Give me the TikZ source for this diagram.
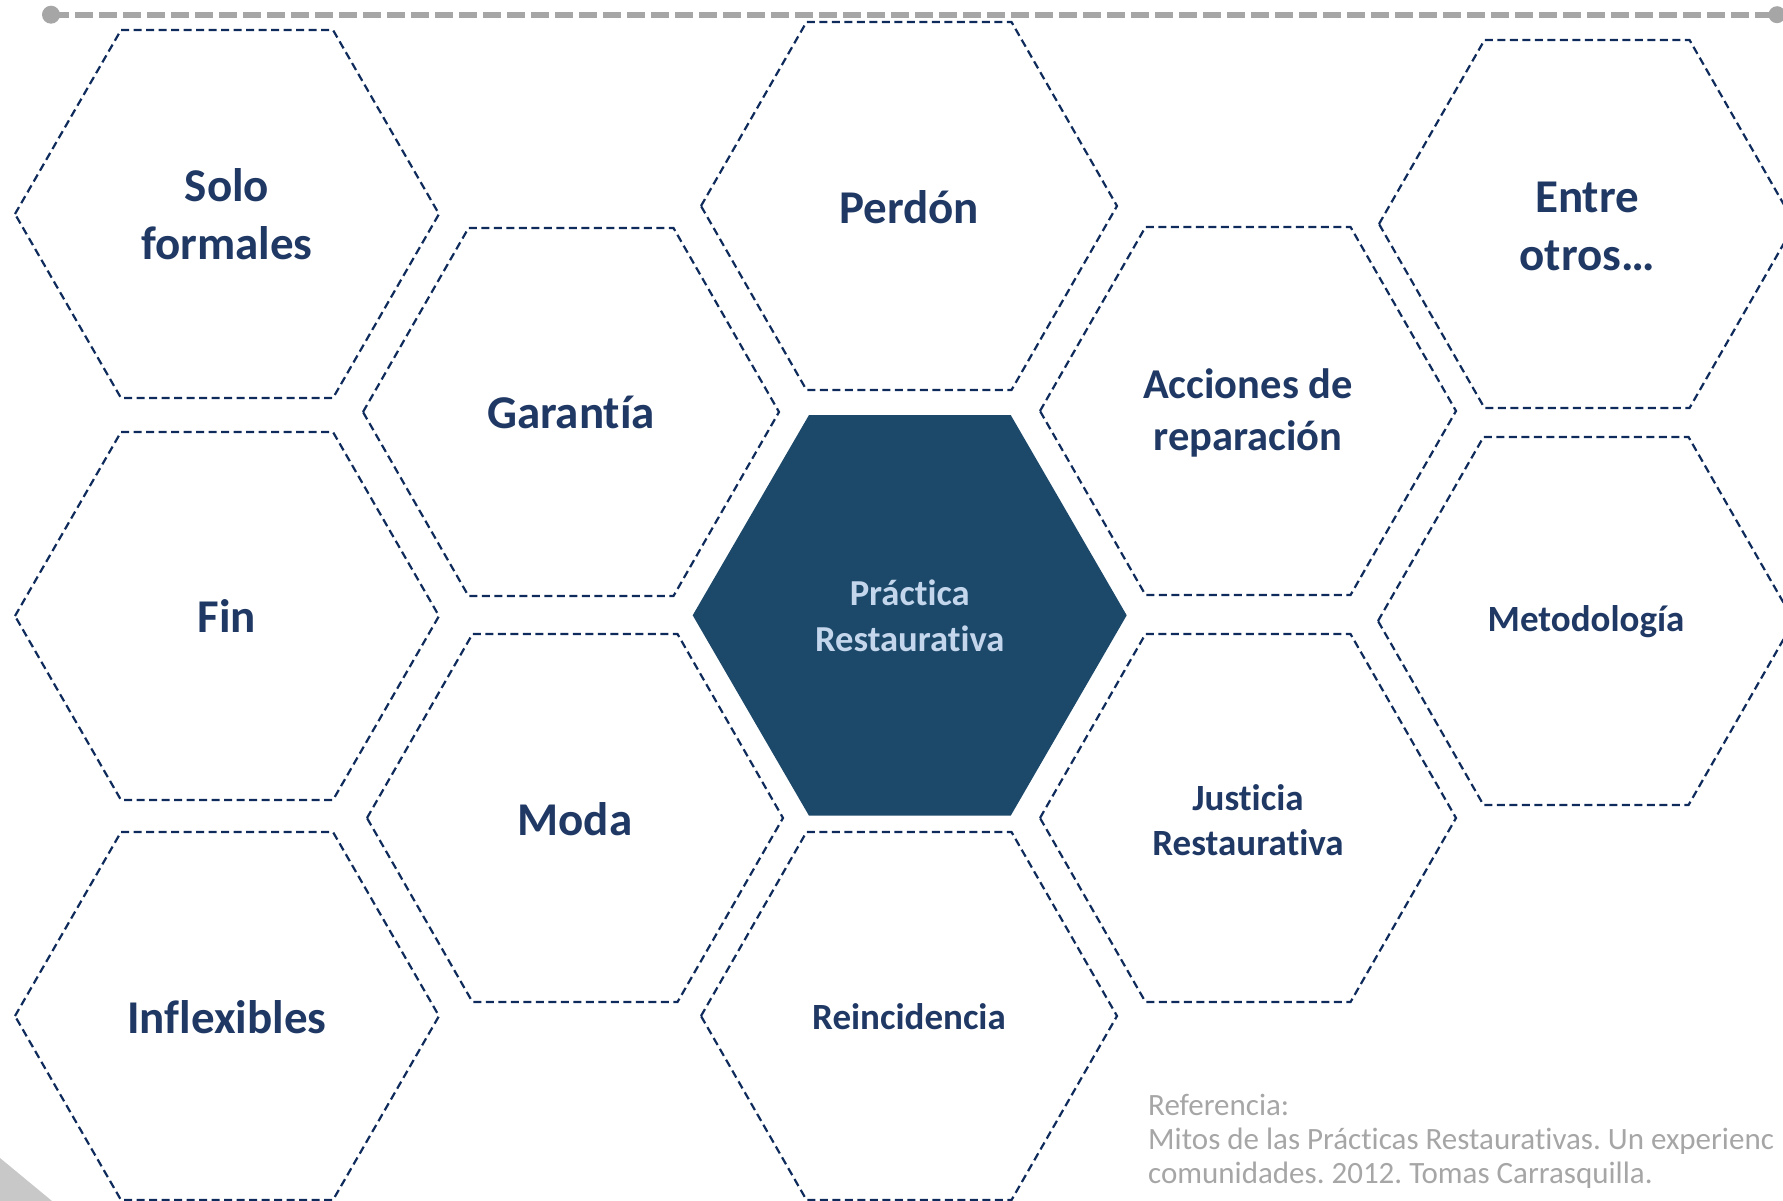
\documentclass[tikz,border=0pt]{standalone}
\usepackage{fontspec}
\setmainfont{Carlito}[Ligatures={NoCommon}, RawFeature={-liga;-clig;-dlig}]
\frenchspacing
\definecolor{navyline}{HTML}{0F2B5B}
\definecolor{navytext}{HTML}{1F3864}
\definecolor{hexfill}{HTML}{1C4869}
\definecolor{lightlab}{HTML}{C3D6EC}
\definecolor{rulegray}{HTML}{A6A6A6}
\definecolor{reftext}{HTML}{A6A6A6}
\definecolor{cornergray}{HTML}{C8C8C8}
\tikzset{
  hexline/.style={draw=navyline, line width=2.2pt, dash pattern=on 8pt off 4.5pt},
  hexbig/.pic={\draw[hexline] (-212,0) -- (-106,-184) -- (106,-184) -- (212,0) -- (106,184) -- (-106,184) -- cycle;},
  hexsmall/.pic={\draw[hexline] (-208,0) -- (-102.5,-184) -- (102.5,-184) -- (208,0) -- (102.5,184) -- (-102.5,184) -- cycle;},
  biglab/.style={text=navytext, align=center, inner sep=0pt, font=\bfseries\fontsize{47}{58}\selectfont},
  midlab/.style={text=navytext, align=center, inner sep=0pt, font=\bfseries\fontsize{42.5}{52}\selectfont},
  smalllab/.style={text=navytext, align=center, inner sep=0pt, font=\bfseries\fontsize{37}{45.5}\selectfont},
  centerlab/.style={text=lightlab, align=center, inner sep=0pt, font=\bfseries\fontsize{36.6}{45.5}\selectfont},
  reflab/.style={text=reftext, align=left, inner sep=0pt, font=\fontsize{31}{34}\selectfont}
}
\begin{document}
\begin{tikzpicture}[x=1pt,y=-1pt]
\useasboundingbox (0,0) rectangle (1783,1201);
\clip (0,0) rectangle (1783,1201);
% top rule
\coordinate (ruleL) at (51,14.7);
\coordinate (ruleR) at (1777,14.7);
\draw[rulegray, line width=6pt, dash pattern=on 17.7pt off 6.3pt] (ruleL) -- (ruleR);
\fill[rulegray] (ruleL) circle (9);
\fill[rulegray] (ruleR) circle (8.5);
% corner
\fill[cornergray] (0,1158) -- (52,1201) -- (0,1201) -- cycle;
% hexagons
\pic at (227,214) {hexbig};
\pic at (227,616) {hexbig};
\pic at (227,1016) {hexbig};
\pic at (571,412) {hexsmall};
\pic at (575,818) {hexsmall};
\pic at (909,206) {hexsmall};
\pic at (909,1016) {hexsmall};
\pic at (1248,411) {hexsmall};
\pic at (1248,818) {hexsmall};
\pic at (1587,224) {hexsmall};
\pic at (1586,621) {hexsmall};
% central hexagon
\fill[hexfill] (692.7,615.3) -- (809,415) -- (1010.7,415) -- (1126.7,615.3) -- (1010.7,815.7) -- (809,815.7) -- cycle;
% labels
\node[biglab] (solo) at (227,214) {Solo\\formales};
\node[biglab] (fin) at (227,616) {Fin};
\node[biglab] (inflex) at (227,1017) {Inflexibles};
\node[biglab] (garantia) at (571,412) {Garantía};
\node[biglab] (moda) at (575,819) {Moda};
\node[biglab] (perdon) at (909,207) {Perdón};
\node[smalllab] (reinc) at (909,1017) {Reincidencia};
\node[midlab] (acciones) at (1248,413) {Acciones de\\reparación};
\node[smalllab] (justicia) at (1248,820) {Justicia\\Restaurativa};
\node[biglab] (entre) at (1587,226) {Entre\\otros…};
\node[smalllab] (metod) at (1586,622) {Metodología};
\node[centerlab] (practica) at (909.7,616) {Práctica\\Restaurativa};
% reference
\node[reflab, anchor=north west] (ref) at (1148,1094) {Referencia:\\Mitos de las Prácticas Restaurativas. Un experienc\\comunidades. 2012. Tomas Carrasquilla.};
\end{tikzpicture}
\end{document}
